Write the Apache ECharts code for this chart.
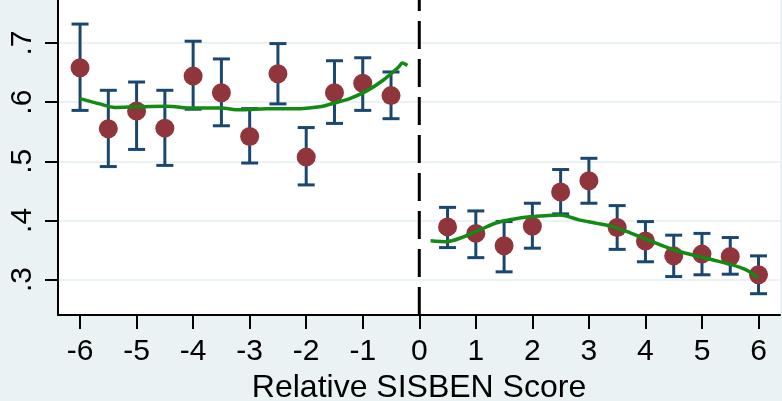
<!DOCTYPE html>
<html>
<head>
<meta charset="utf-8">
<script src="https://cdn.jsdelivr.net/npm/echarts@6/dist/echarts.min.js"></script>
<style>
html,body{margin:0;padding:0;background:#EAF2F3;overflow:hidden;}
#c{width:782px;height:401px;}
</style>
</head>
<body>
<div id="c"></div>
<script>
// ---- data ----
const xTicks = [-6,-5,-4,-3,-2,-1,0,1,2,3,4,5,6];
const yTicks = [0.3,0.4,0.5,0.6,0.7];
const binX  = [-6,-5.5,-5,-4.5,-4,-3.5,-3,-2.5,-2,-1.5,-1,-0.5, 0.5,1,1.5,2,2.5,3,3.5,4,4.5,5,5.5,6];
const meanY = [0.658,0.555,0.585,0.556,0.644,0.616,0.542,0.648,0.507,0.616,0.632,0.611,
               0.389,0.378,0.357,0.390,0.448,0.467,0.388,0.365,0.340,0.343,0.339,0.308];
const lowY  = [0.586,0.491,0.520,0.493,0.588,0.560,0.497,0.597,0.460,0.564,0.586,0.572,
               0.354,0.337,0.313,0.353,0.411,0.429,0.351,0.330,0.305,0.308,0.309,0.276];
const highY = [0.732,0.620,0.634,0.620,0.703,0.673,0.589,0.699,0.557,0.670,0.675,0.651,
               0.422,0.416,0.398,0.429,0.486,0.505,0.425,0.398,0.375,0.378,0.371,0.340];
const fitLeftX  = [-6,-5.65,-5.38,-5.0,-4.47,-4.0,-3.52,-3.17,-2.7,-2.11,-1.76,-1.52,-1.23,-0.93,-0.64,-0.37,-0.3,-0.21];
const fitLeftY  = [0.606,0.597,0.591,0.592,0.593,0.590,0.590,0.587,0.589,0.589,0.592,0.598,0.606,0.619,0.637,0.659,0.666,0.662];
const fitRightX = [0.2,0.48,0.78,1.07,1.37,1.66,1.96,2.25,2.49,2.84,3.14,3.43,3.73,4.02,4.31,4.61,4.9,5.2,5.49,5.79,5.99];
const fitRightY = [0.3655,0.364,0.372,0.384,0.396,0.402,0.406,0.408,0.409,0.4005,0.395,0.389,0.379,0.368,0.357,0.347,0.340,0.333,0.326,0.316,0.303];
const xTitle = 'Relative SISBEN Score';
const yMin = 0.24, yMax = 0.7727, xMin = -6.39, xMax = 6.38;

const chart = echarts.init(document.getElementById('c'), null, {renderer:'canvas'});
const font = '"Liberation Sans", Arial, sans-serif';
const zip = (a,b) => a.map((v,i)=>[v,b[i]]);

chart.setOption({
  animation:false,
  backgroundColor:'#EAF2F3',
  textStyle:{fontFamily:font},
  grid:{left:58, right:2, top:0, bottom:86, show:true, backgroundColor:'#ffffff', borderWidth:0, containLabel:false, outerBoundsMode:'none'},
  xAxis:{
    type:'value', min:xMin, max:xMax,
    name:xTitle, nameLocation:'middle', nameGap:57, nameMoveOverlap:false,
    nameTextStyle:{fontSize:32, color:'#000', fontFamily:font},
    axisLine:{show:true, onZero:false, lineStyle:{color:'#000', width:2}},
    axisTick:{show:true, inside:false, length:14, lineStyle:{color:'#000', width:2}, customValues:xTicks},
    axisLabel:{show:true, fontSize:30, color:'#000', margin:22, fontFamily:font, customValues:xTicks,
      hideOverlap:false, formatter:v=>String(Math.round(v))},
    splitLine:{show:false}
  },
  yAxis:{
    type:'value', min:yMin, max:yMax, nameMoveOverlap:false,
    axisLine:{show:true, onZero:false, lineStyle:{color:'#000', width:2}},
    axisTick:{show:true, inside:false, length:13, lineStyle:{color:'#000', width:2}, customValues:yTicks},
    axisLabel:{show:true, rotate:90, fontSize:30, color:'#000', margin:20, fontFamily:font, customValues:yTicks,
      formatter:v=>v.toFixed(1).replace(/^0/,'')},
    splitLine:{show:true, lineStyle:{color:'#EAF2F3', width:2}}
  },
  series:[
    {
      type:'line', data:[[0,yMin],[0,yMax]], symbol:'none', silent:true,
      lineStyle:{color:'#000', width:3, type:[28,10]}, z:2
    },
    {
      type:'custom', z:3,
      data: binX.map((x,i)=>[x, lowY[i], highY[i]]),
      renderItem:(params, api)=>{
        const x = api.value(0);
        const pLo = api.coord([x, api.value(1)]);
        const pHi = api.coord([x, api.value(2)]);
        const hw = 8.5;
        const style = {stroke:'#1A476F', lineWidth:3, fill:null};
        return {type:'group', children:[
          {type:'line', shape:{x1:pLo[0], y1:pLo[1], x2:pHi[0], y2:pHi[1]}, style:style},
          {type:'line', shape:{x1:pLo[0]-hw, y1:pLo[1], x2:pLo[0]+hw, y2:pLo[1]}, style:style},
          {type:'line', shape:{x1:pHi[0]-hw, y1:pHi[1], x2:pHi[0]+hw, y2:pHi[1]}, style:style}
        ]};
      }
    },
    {
      type:'scatter', z:4, symbol:'circle', symbolSize:19,
      itemStyle:{color:'#8F353B', opacity:1},
      data: zip(binX, meanY)
    },
    {
      type:'line', z:5, symbol:'none', smooth:0.3,
      lineStyle:{color:'#138A13', width:3.5},
      data: zip(fitLeftX, fitLeftY)
    },
    {
      type:'line', z:5, symbol:'none', smooth:0.3,
      lineStyle:{color:'#138A13', width:3.5},
      data: zip(fitRightX, fitRightY)
    }
  ]
});
</script>
</body>
</html>
